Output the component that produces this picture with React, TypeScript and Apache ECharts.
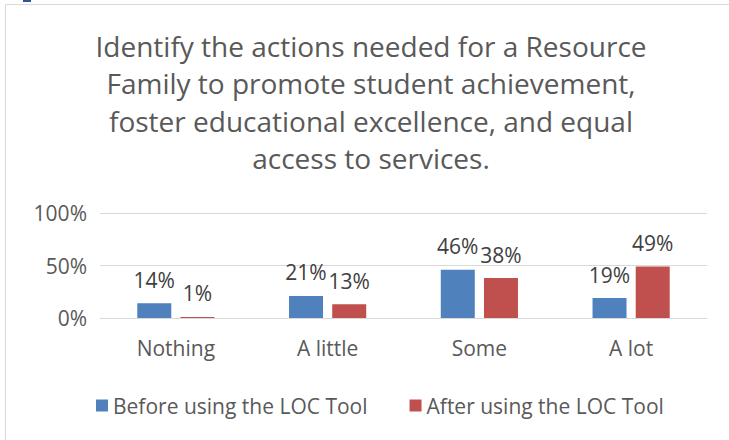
import React, { useEffect, useRef } from "react";
import * as echarts from "echarts";

const categories = ["Nothing", "A little", "Some", "A lot"];
const beforeValues = [0.14, 0.21, 0.46, 0.19];
const afterValues = [0.01, 0.13, 0.38, 0.49];
const seriesNames = ["Before using the LOC Tool", "After using the LOC Tool"];
const titleLines = [
  "Identify the actions needed for a Resource",
  "Family to promote student achievement,",
  "foster educational excellence, and equal",
  "access to services.",
];
const yTicks = { min: 0, max: 1, interval: 0.5 };

const FONT = "'Open Sans', sans-serif";
const GREY = "#595959";

export default function App() {
  const ref = useRef<HTMLDivElement>(null);
  useEffect(() => {
    if (!ref.current) return;
    const chart = echarts.init(ref.current, null, { renderer: "svg" });
    const pct = (v: number) => `${Math.round(v * 100)}%`;
    const labelCfg = {
      show: true,
      position: "top",
      distance: 13,
      fontFamily: FONT,
      fontSize: 21,
      color: "#404040",
      formatter: (p: any) => pct(p.value),
    };
    chart.setOption({
      animation: false,
      backgroundColor: "#ffffff",
      graphic: [
        {
          type: "rect",
          shape: { x: 5.5, y: 4.5, width: 800, height: 500 },
          style: { fill: "none", stroke: "#d9d9d9", lineWidth: 1 },
          silent: true,
        },
        {
          type: "rect",
          shape: { x: 23, y: 0, width: 8, height: 2 },
          style: { fill: "#2f5597" },
          silent: true,
        },
        {
          type: "text",
          x: 371,
          y: 27,
          style: {
            text: titleLines.join("\n"),
            textAlign: "center",
            textVerticalAlign: "top",
            fontFamily: FONT,
            fontSize: 28,
            lineHeight: 37.5,
            fill: GREY,
          },
          silent: true,
        },
      ],
      legend: {
        data: seriesNames,
        left: 91,
        top: 390,
        icon: "rect",
        itemWidth: 12,
        itemHeight: 12,
        itemGap: 42,
        textStyle: { fontFamily: FONT, fontSize: 21, color: GREY },
      },
      grid: { left: 100, right: 22, top: 213, bottom: 122, containLabel: false },
      xAxis: {
        type: "category",
        data: categories,
        axisLine: { show: true, lineStyle: { color: "#d9d9d9", width: 1 } },
        axisTick: { show: false },
        axisLabel: { margin: 19, fontFamily: FONT, fontSize: 21, color: GREY },
      },
      yAxis: {
        type: "value",
        min: yTicks.min,
        max: yTicks.max,
        interval: yTicks.interval,
        axisLine: { show: false },
        axisTick: { show: false },
        splitLine: { lineStyle: { color: "#d9d9d9", width: 1 } },
        axisLabel: {
          margin: 13,
          fontFamily: FONT,
          fontSize: 21,
          color: GREY,
          formatter: (v: number) => pct(v),
        },
      },
      series: [
        {
          name: seriesNames[0],
          type: "bar",
          data: beforeValues,
          barWidth: 34,
          barGap: "27%",
          itemStyle: { color: "#4f81bd" },
          label: labelCfg,
        },
        {
          name: seriesNames[1],
          type: "bar",
          data: afterValues,
          barWidth: 34,
          itemStyle: { color: "#c0504d" },
          label: labelCfg,
        },
      ],
    });
    return () => chart.dispose();
  }, []);
  return (
    <div
      ref={ref}
      style={{ position: "fixed", left: 0, top: 0, width: 729, height: 440 }}
    />
  );
}
